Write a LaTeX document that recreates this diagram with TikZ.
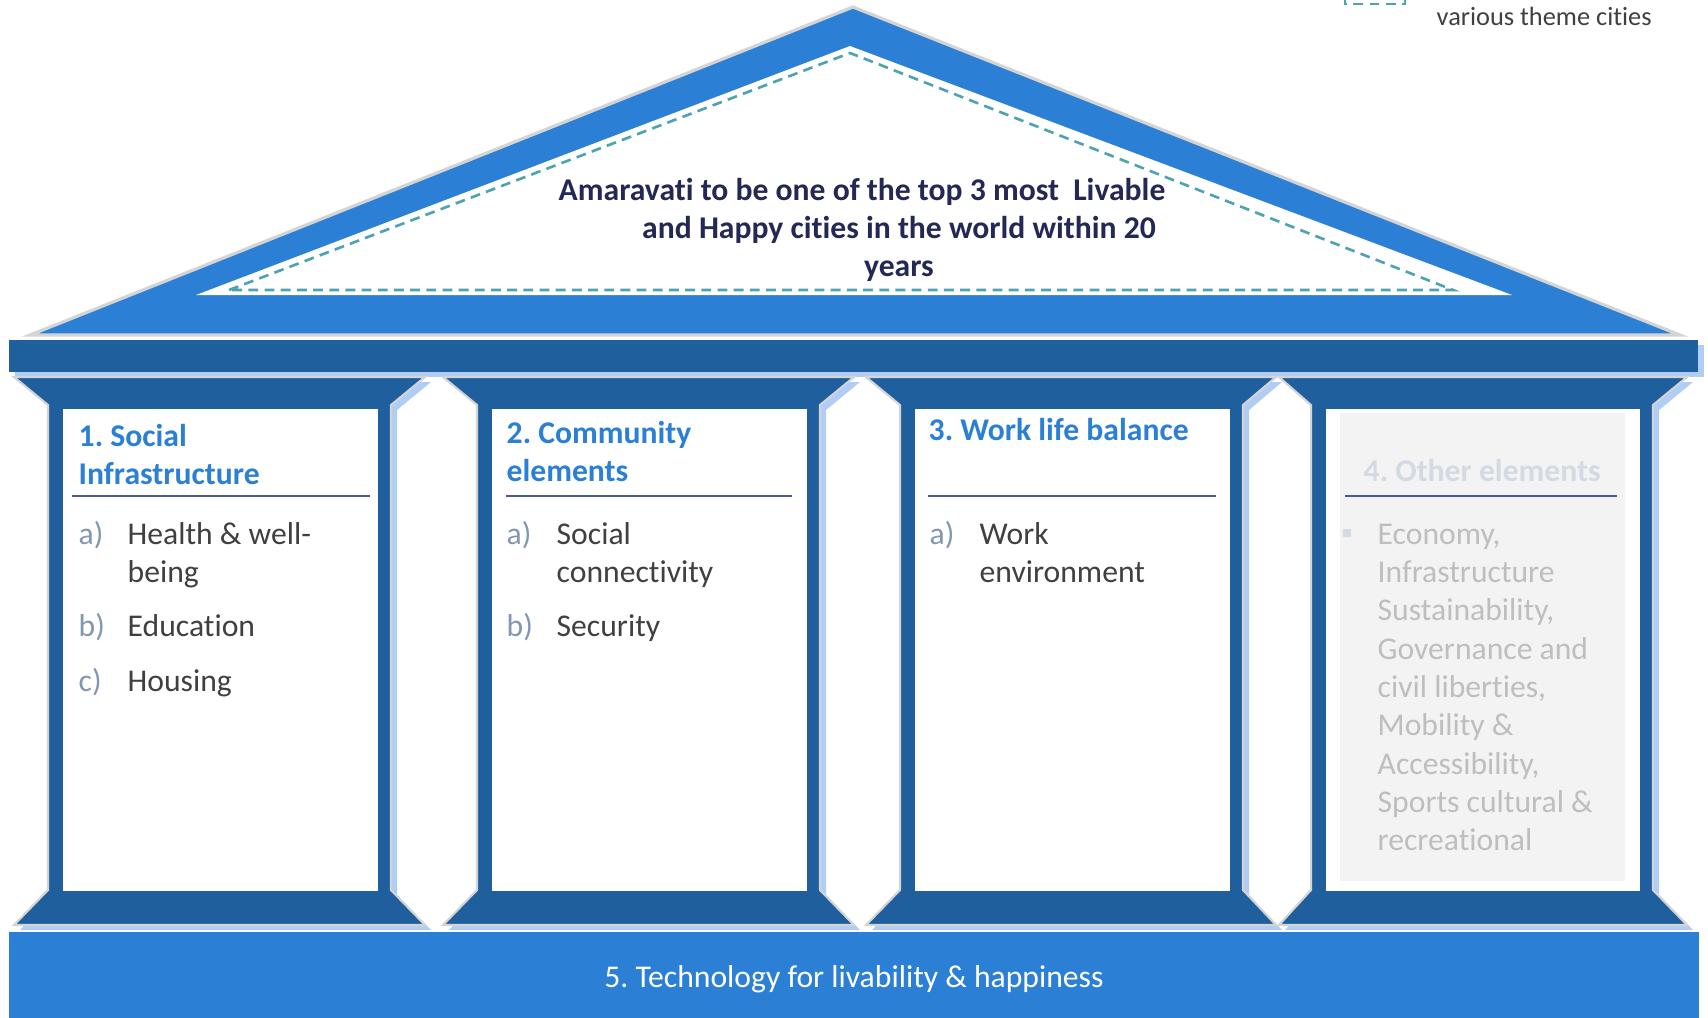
\documentclass[tikz,border=0pt]{standalone}
\usepackage{fontspec}
\setmainfont{Carlito}[Ligatures=NoCommon]
\usetikzlibrary{positioning}
\frenchspacing
\definecolor{bluei}{RGB}{43,127,213}
\definecolor{blueii}{RGB}{31,95,158}
\definecolor{blueiii}{RGB}{176,205,245}
\definecolor{grayi}{RGB}{212,212,212}
\definecolor{grayii}{RGB}{243,243,243}
\definecolor{grayiii}{RGB}{190,190,190}
\definecolor{grayiv}{RGB}{212,218,228}
\definecolor{teali}{RGB}{78,164,174}
\definecolor{navyi}{RGB}{36,40,84}
\definecolor{texti}{RGB}{64,64,64}
\definecolor{labeli}{RGB}{132,151,176}
\definecolor{rulei}{RGB}{70,88,168}
\tikzset{
      every node/.style={
        execute at begin node={\spaceskip=0pt\xspaceskip=0pt\relax}
      },
      myroof/.style={
        fill=bluei,
        draw=grayi,
        line width=0.9pt
      },
      mybeam/.style={
        fill=#1,
        preaction={fill=blueiii, transform canvas={xshift=0.06cm, yshift=-0.05cm}}
      },
      mypillar/.style={
        fill=blueii,
        draw=grayi,
        line width=0.6pt,
        preaction={fill=blueiii, draw=none, transform canvas={xshift=0.06cm, yshift=-0.05cm}}
      },
      mydashed/.style={
        draw=teali,
        line width=0.75pt,
        dash pattern=on 2.8pt off 1.8pt
      },
      mypanel/.style 2 args={
        fill=#1,
        anchor=north west,
        inner sep=0pt,
        minimum width=#2,
        minimum height=4.82cm
      },
      myhead/.style 2 args={
        anchor=base west,
        inner sep=0pt,
        align=left,
        text=#1,
        text width=#2,
        font=\fontsize{9}{10.9}\selectfont\bfseries
      },
      mylabel/.style={
        anchor=base west,
        inner sep=0pt,
        text=labeli,
        font=\fontsize{9}{10.9}\selectfont
      },
      myitem/.style={
        anchor=base west,
        inner sep=0pt,
        align=left,
        text width=2.8cm,
        text=#1,
        font=\fontsize{9}{10.9}\selectfont
      },
      myrule/.style={
        draw=rulei,
        line width=0.7pt
      },
    }

\begin{document}
\begin{tikzpicture}[x=0.01cm, y=-0.01cm]
  \useasboundingbox (0,0) rectangle (1708,1017);
  \clip (0,0) rectangle (1708,1017);

  % roof
  \path[myroof] (30,335) -- (853,7) -- (1680,335) -- cycle;
  \path[fill=white] (196,295) -- (850,46) -- (1512,295) -- cycle;
  \draw[mydashed] (229,290) -- (850,53) -- (1453,290) -- cycle;
  \node[anchor=base, inner sep=0pt, text=navyi,
        font=\fontsize{9}{10.9}\selectfont\bfseries]
    (vision) at (899,200)
    {\begin{tabular}[t]{@{}c@{}}Amaravati to be one of the top 3 most\ \ Livable\hspace*{0.74cm}\\and Happy cities in the world within 20\\years\end{tabular}};

  % beam and pillars
  \path[mybeam=blueii] (9,340) rectangle (1698,372);
  \path[mypillar] (14,377) -- (425,377) -- (391,405) -- (391,890) -- (425,925) -- (14,925) -- (48,890) -- (48,405) -- cycle;
  \path[mypillar] (443,377) -- (854,377) -- (820,405) -- (820,890) -- (854,925) -- (443,925) -- (477,890) -- (477,405) -- cycle;
  \path[mypillar] (866,377) -- (1276,377) -- (1243,405) -- (1243,890) -- (1276,925) -- (866,925) -- (900,890) -- (900,405) -- cycle;
  \path[mypillar] (1279,377) -- (1687,377) -- (1653,405) -- (1653,890) -- (1687,925) -- (1279,925) -- (1311,890) -- (1311,405) -- cycle;

  \node[mypanel={white}{3.15cm}] (panel1) at (62,408) {};
  \node[mypanel={white}{3.15cm}] (panel2) at (491,408) {};
  \node[mypanel={white}{3.15cm}] (panel3) at (914,408) {};
  \node[mypanel={white}{3.14cm}] (panel4) at (1325,408) {};
  \node[mypanel={grayii}{2.85cm}, minimum height=4.68cm] (shade4) at (1339,412) {};

  % 1
  \node[myhead={bluei}{3cm}] (head1) at (78,446) {1. Social\\Infrastructure};
  \draw[myrule] (72,496) -- (370,496);
  \node[mylabel] (lbl1a) at (78,544) {a)};
  \node[myitem=texti] (item1a) at (127,544) {Health \& well-\\being};
  \node[mylabel] (lbl1b) at (78,636) {b)};
  \node[myitem=texti] (item1b) at (127,636) {Education};
  \node[mylabel] (lbl1c) at (78,691) {c)};
  \node[myitem=texti] (item1c) at (127,691) {Housing};

  % 2
  \node[myhead={bluei}{3cm}] (head2) at (506,443) {2. Community\\elements};
  \draw[myrule] (506,496) -- (792,496);
  \node[mylabel] (lbl2a) at (506,544) {a)};
  \node[myitem=texti] (item2a) at (556,544) {Social\\connectivity};
  \node[mylabel] (lbl2b) at (506,636) {b)};
  \node[myitem=texti] (item2b) at (556,636) {Security};

  % 3
  \node[myhead={bluei}{3cm}] (head3) at (928,440) {3. Work life balance};
  \draw[myrule] (928,496) -- (1216,496);
  \node[mylabel] (lbl3a) at (929,544) {a)};
  \node[myitem=texti] (item3a) at (979,544) {Work\\environment};

  % 4
  \node[myhead={grayiv}{2.8cm}] (head4) at (1363,481) {4. Other elements};
  \draw[myrule] (1345,496) -- (1617,496);
  \node[fill=grayiv, inner sep=0pt, minimum size=0.08cm] (bullet4) at (1347,533) {};
  \node[myitem=grayiii] (item4) at (1377,544)
    {Economy,\\Infrastructure\\Sustainability,\\Governance and\\civil liberties,\\Mobility \&\\Accessibility,\\Sports cultural \&\\recreational};

  % base
  \path[fill=bluei] (9,932) rectangle (1699,1030);
  \node[anchor=base, inner sep=0pt, text=white, font=\fontsize{9}{10.9}\selectfont]
    (tech) at (854,987) {5. Technology for livability \& happiness};

  % legend
  \draw[mydashed] (1345,-20) rectangle (1405,4);
  \node[anchor=base west, inner sep=0pt, text=texti, font=\fontsize{7.5}{9}\selectfont]
    (legend) at (1436,25) {various theme cities};
\end{tikzpicture}
\end{document}
